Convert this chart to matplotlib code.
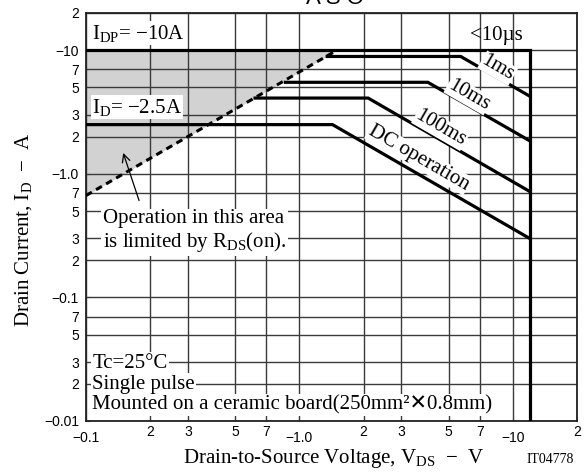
import matplotlib
matplotlib.use("Agg")
import matplotlib.pyplot as plt
from matplotlib.ticker import FixedLocator, FixedFormatter

plt.rcParams['font.family'] = ['Liberation Serif', 'DejaVu Sans']
plt.rcParams['mathtext.fontset'] = 'custom'
plt.rcParams['mathtext.rm'] = 'Liberation Serif'
plt.rcParams['mathtext.it'] = 'Liberation Serif:italic'

# dane (V_DS w V, I_D w A, wartości bezwzględne)
rds_v = [0.1, 1.5]          # granica R_DS(on)
rds_i = [0.667, 10]
pulse10us_v = [0.1, 12, 12]  # <10us
pulse10us_i = [10, 10, 0.01]
ms1_v = [1.35, 5.7, 12]
ms1_i = [8.9, 8.9, 4.25]
ms10_v = [0.86, 4.0, 12]
ms10_i = [5.5, 5.5, 1.85]
ms100_v = [0.62, 2.1, 12]
ms100_i = [4.1, 4.1, 0.72]
dc_v = [0.1, 1.43, 12]
dc_i = [2.5, 2.5, 0.30]

x_major = [0.1, 1, 10]
x_major_lab = ["−0.1", "−1.0", "−10"]
x_minor = [0.2, 0.3, 0.5, 0.7, 2, 3, 5, 7, 20]
x_minor_lab = ["2", "3", "5", "7", "2", "3", "5", "7", "2"]
y_major = [0.01, 0.1, 1, 10]
y_major_lab = ["−0.01", "−0.1", "−1.0", "−10"]
y_minor = [0.02, 0.03, 0.05, 0.07, 0.2, 0.3, 0.5, 0.7, 2, 3, 5, 7, 20]
y_minor_lab = ["2", "3", "5", "7", "2", "3", "5", "7", "2", "3", "5", "7", "2"]

fig = plt.figure(figsize=(5.88, 4.73), dpi=100)
ax = fig.add_axes([86/588, 1-421/473, (577-86)/588, (421-13)/473])
ax.set_xscale('log')
ax.set_yscale('log')
ax.set_xlim(0.1, 20)
ax.set_ylim(0.01, 20)

# siatka
ax.xaxis.set_major_locator(FixedLocator(x_major))
ax.xaxis.set_major_formatter(FixedFormatter(x_major_lab))
ax.xaxis.set_minor_locator(FixedLocator(x_minor))
ax.xaxis.set_minor_formatter(FixedFormatter(x_minor_lab))
ax.yaxis.set_major_locator(FixedLocator(y_major))
ax.yaxis.set_major_formatter(FixedFormatter(y_major_lab))
ax.yaxis.set_minor_locator(FixedLocator(y_minor))
ax.yaxis.set_minor_formatter(FixedFormatter(y_minor_lab))
ax.grid(True, which='both', color='#3a3a3a', lw=1.0)
ax.tick_params(which='both', direction='in', length=3, color='#3a3a3a', labelsize=10)
for lab in ax.get_xticklabels(which='both') + ax.get_yticklabels(which='both'):
    lab.set_family('Liberation Sans')
ax.tick_params(axis='x', which='major', pad=7)
ax.tick_params(axis='x', which='minor', pad=3)
ax.tick_params(axis='y', which='both', pad=5)
for s in ax.spines.values():
    s.set_linewidth(1.3)
    s.set_color('#222222')

# obszar ograniczony przez R_DS(on)
ax.fill_between(rds_v, rds_i, [10, 10], color='#d2d2d2', lw=0, zorder=1.5)
ax.plot(rds_v, rds_i, color='black', lw=2.2, ls=(0, (2.2, 1.6)), zorder=4)

for v, i in [(pulse10us_v, pulse10us_i), (ms1_v, ms1_i), (ms10_v, ms10_i),
             (ms100_v, ms100_i), (dc_v, dc_i)]:
    ax.plot(v, i, color='black', lw=2.3, solid_joinstyle='miter', zorder=4)

wb = dict(facecolor='white', edgecolor='none', pad=1.0)
fs = 15
ax.text(0.1067, 13.7, r'I$_{\mathrm{DP}}$= −10A', fontsize=fs, va='center', ha='left', bbox=wb, zorder=5)
ax.text(0.1067, 3.46, r'I$_{\mathrm{D}}$= −2.5A', fontsize=fs, va='center', ha='left', bbox=wb, zorder=5)
ax.text(8.4, 13.2, '<10µs', fontsize=fs, va='center', ha='center', zorder=5)
for x, y, t in [(8.5, 7.15, '1ms'), (6.2, 4.33, '10ms'), (4.59, 2.34, '100ms'),
                (3.62, 1.34, 'DC operation')]:
    ax.text(x, y, t, fontsize=fs, rotation=-30, rotation_mode='anchor',
            va='center', ha='center', bbox=dict(facecolor='white', edgecolor='none', pad=0.5), zorder=5)

ax.text(0.12, 0.34, 'Operation in this area\nis limited by R$_{\\mathrm{DS}}$(on).',
        fontsize=fs, va='center', ha='left', linespacing=1.15, bbox=wb, zorder=5)
ax.annotate('', xy=(0.148, 1.55), xytext=(0.179, 0.578),
            arrowprops=dict(arrowstyle='->', color='black', lw=0.9, mutation_scale=14), zorder=5)

ax.text(0.107, 0.0294, 'Tc=25°C', fontsize=fs, va='center', ha='left', bbox=wb, zorder=5)
ax.text(0.107, 0.0199, 'Single pulse', fontsize=fs, va='center', ha='left', bbox=wb, zorder=5)
ax.text(0.107, 0.0134, 'Mounted on a ceramic board(250mm²✕0.8mm)', fontsize=fs,
        va='center', ha='left', bbox=wb, zorder=5)

ax.set_xlabel(r'Drain-to-Source Voltage, V$_{\mathrm{DS}}$  −  V', fontsize=fs)
ax.xaxis.set_label_coords((334-86)/491, -(458-421)/408)
ax.xaxis.label.set_va('center')
ax.set_ylabel(r'Drain Current, I$_{\mathrm{D}}$  −  A', fontsize=fs)
ax.yaxis.set_label_coords(-(86-24)/491, (421-230)/408)
ax.yaxis.label.set_va('center')

fig.text(550/588, 1-459/473, 'IT04778', fontsize=10, ha='center', va='center')
fig.text(335/588, 1-3.5/473, 'A S O', fontsize=16, family='Liberation Sans', ha='center', va='baseline')

fig.savefig('out.png', dpi=100)
